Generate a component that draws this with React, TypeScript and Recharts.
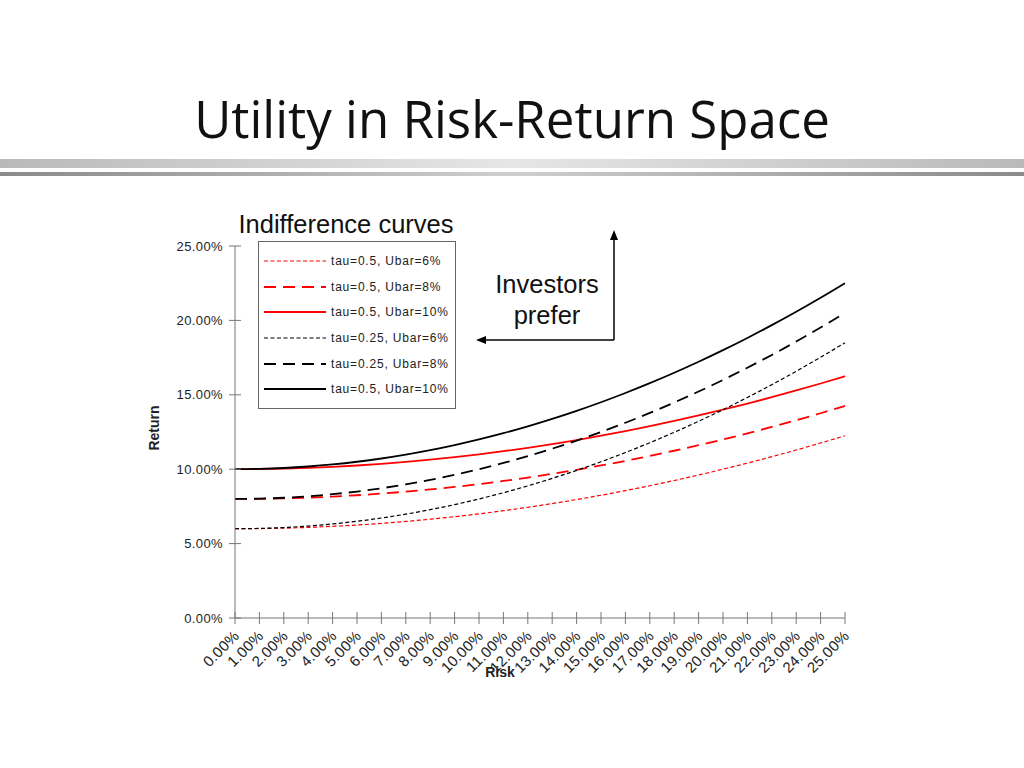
import React from "react";
import { LineChart, Line, XAxis, YAxis, Legend } from "recharts";

// risk in %, returns in %
const risk = [0, 1, 2, 3, 4, 5, 6, 7, 8, 9, 10, 11, 12, 13, 14, 15, 16, 17, 18, 19, 20, 21, 22, 23, 24, 25];
const redU6 = [6.0, 6.01, 6.04, 6.09, 6.16, 6.25, 6.36, 6.49, 6.64, 6.81, 7.0, 7.21, 7.44, 7.69, 7.96, 8.25, 8.56, 8.89, 9.24, 9.61, 10.0, 10.41, 10.84, 11.29, 11.76, 12.25];
const redU8 = [8.0, 8.01, 8.04, 8.09, 8.16, 8.25, 8.36, 8.49, 8.64, 8.81, 9.0, 9.21, 9.44, 9.69, 9.96, 10.25, 10.56, 10.89, 11.24, 11.61, 12.0, 12.41, 12.84, 13.29, 13.76, 14.25];
const redU10 = [10.0, 10.01, 10.04, 10.09, 10.16, 10.25, 10.36, 10.49, 10.64, 10.81, 11.0, 11.21, 11.44, 11.69, 11.96, 12.25, 12.56, 12.89, 13.24, 13.61, 14.0, 14.41, 14.84, 15.29, 15.76, 16.25];
const blackU6 = [6.0, 6.02, 6.08, 6.18, 6.32, 6.5, 6.72, 6.98, 7.28, 7.62, 8.0, 8.42, 8.88, 9.38, 9.92, 10.5, 11.12, 11.78, 12.48, 13.22, 14.0, 14.82, 15.68, 16.58, 17.52, 18.5];
const blackU8 = [8.0, 8.02, 8.08, 8.18, 8.32, 8.5, 8.72, 8.98, 9.28, 9.62, 10.0, 10.42, 10.88, 11.38, 11.92, 12.5, 13.12, 13.78, 14.48, 15.22, 16.0, 16.82, 17.68, 18.58, 19.52, 20.5];
const blackU10 = [10.0, 10.02, 10.08, 10.18, 10.32, 10.5, 10.72, 10.98, 11.28, 11.62, 12.0, 12.42, 12.88, 13.38, 13.92, 14.5, 15.12, 15.78, 16.48, 17.22, 18.0, 18.82, 19.68, 20.58, 21.52, 22.5];
const yTicks = [0, 5, 10, 15, 20, 25];

const data = risk.map((r, i) => ({
  risk: r,
  redU6: redU6[i],
  redU8: redU8[i],
  redU10: redU10[i],
  blackU6: blackU6[i],
  blackU8: blackU8[i],
  blackU10: blackU10[i],
}));

const series = [
  { key: "redU6", name: "tau=0.5, Ubar=6%", color: "#ff0000", dash: "4 2.5", width: 1.2 },
  { key: "redU8", name: "tau=0.5, Ubar=8%", color: "#ff0000", dash: "12 7", width: 1.8 },
  { key: "redU10", name: "tau=0.5, Ubar=10%", color: "#ff0000", dash: undefined, width: 1.8 },
  { key: "blackU6", name: "tau=0.25, Ubar=6%", color: "#000000", dash: "4 2.5", width: 1.2 },
  { key: "blackU8", name: "tau=0.25, Ubar=8%", color: "#000000", dash: "12 7", width: 1.8 },
  { key: "blackU10", name: "tau=0.5, Ubar=10%", color: "#000000", dash: undefined, width: 1.8 },
];

const font = "'Liberation Sans', Arial, sans-serif";
const axisColor = "#777";

const pct = (v: number) => `${v.toFixed(2)}%`;

const YTick = (props: any) => {
  const { x, y, payload } = props;
  const ax = x + 8;
  return (
    <g>
      <line x1={ax - 6} x2={ax + 6} y1={y} y2={y} stroke={axisColor} />
      <text x={ax - 12} y={y} dy={4.5} textAnchor="end" fontSize={13} fill="#222" fontFamily={font} letterSpacing={0.4}>
        {pct(payload.value)}
      </text>
    </g>
  );
};

const XTick = (props: any) => {
  const { x, y, payload } = props;
  const ay = y - 8;
  return (
    <g>
      <line x1={x} x2={x} y1={ay - 6} y2={ay + 6} stroke={axisColor} />
      <text
        transform={`translate(${x + 5},${ay + 19}) rotate(-45)`}
        textAnchor="end"
        fontSize={15}
        fill="#222"
        fontFamily={font}
        letterSpacing={0.2}
      >
        {pct(payload.value)}
      </text>
    </g>
  );
};

const LegendBox = () => (
  <div
    style={{
      border: "1px solid #666",
      background: "#fff",
      padding: "6px 0 6px 4px",
      fontFamily: font,
      fontSize: 12,
      letterSpacing: 0.8,
      color: "#222",
      boxSizing: "border-box",
      width: 198,
      height: 168,
    }}
  >
    {series.map((s) => (
      <div key={s.key} style={{ height: 25.7, display: "flex", alignItems: "center" }}>
        <svg width={64} height={10} style={{ marginRight: 4 }}>
          <line x1={1} x2={63} y1={5} y2={5} stroke={s.color} strokeWidth={s.width} strokeDasharray={s.dash} />
        </svg>
        <span>{s.name}</span>
      </div>
    ))}
  </div>
);

export default function App() {
  return (
    <div style={{ position: "absolute", left: 0, top: 0, width: 1024, height: 768, background: "#fff", overflow: "hidden" }}>
      <div
        style={{
          position: "absolute",
          top: 86,
          left: 0,
          width: 1024,
          textAlign: "center",
          fontFamily: "'Open Sans', 'Noto Sans', sans-serif",
          fontSize: 51,
          color: "#111",
          lineHeight: "64px",
        }}
      >
        Utility in Risk-Return Space
      </div>
      <div
        style={{
          position: "absolute",
          top: 159,
          left: 0,
          width: 1024,
          height: 9,
          background: "linear-gradient(to right, #b9b9b9, #e6e6e6 50%, #b9b9b9)",
        }}
      />
      <div
        style={{
          position: "absolute",
          top: 172,
          left: 0,
          width: 1024,
          height: 4,
          background: "linear-gradient(to right, #8a8a8a, #cfcfcf 50%, #8a8a8a)",
        }}
      />
      <div style={{ position: "absolute", left: 0, top: 0 }}>
        <LineChart width={1024} height={768} data={data} margin={{ top: 246, right: 179, bottom: 90, left: 175 }}>
          <XAxis
            dataKey="risk"
            type="number"
            domain={[0, 25]}
            ticks={risk}
            interval={0}
            height={60}
            stroke={axisColor}
            tickLine={false}
            tick={<XTick />}
          />
          <YAxis
            type="number"
            domain={[0, 25]}
            ticks={yTicks}
            width={60}
            stroke={axisColor}
            tickLine={false}
            tick={<YTick />}
          />
          <Legend
            layout="vertical"
            align="center"
            verticalAlign="middle"
            wrapperStyle={{ left: 258, top: 241, width: 198, height: 168 }}
            content={() => <LegendBox />}
          />
          {series.map((s) => (
            <Line
              key={s.key}
              type="monotone"
              dataKey={s.key}
              name={s.name}
              stroke={s.color}
              strokeWidth={s.width}
              strokeDasharray={s.dash}
              dot={false}
              activeDot={false}
              isAnimationActive={false}
            />
          ))}
        </LineChart>
      </div>
      <svg width={1024} height={768} style={{ position: "absolute", left: 0, top: 0, pointerEvents: "none" }}>
        <text x={346} y={233} textAnchor="middle" fontSize={25.5} fontFamily={font} fill="#111">
          Indifference curves
        </text>
        <text x={547} y={293} textAnchor="middle" fontSize={25.5} fontFamily={font} fill="#111">
          Investors
        </text>
        <text x={547} y={324} textAnchor="middle" fontSize={25.5} fontFamily={font} fill="#111">
          prefer
        </text>
        <line x1={614} y1={340} x2={614} y2={238} stroke="#000" strokeWidth={1.5} />
        <polygon points="614,230 610,240 618,240" fill="#000" />
        <line x1={614} y1={340} x2={484} y2={340} stroke="#000" strokeWidth={1.5} />
        <polygon points="476,340 486,336 486,344" fill="#000" />
        <text x={500} y={677} textAnchor="middle" fontSize={14} fontWeight="bold" fontFamily={font} fill="#222">
          Risk
        </text>
        <text
          transform="translate(159,428) rotate(-90)"
          textAnchor="middle"
          fontSize={14}
          fontWeight="bold"
          fontFamily={font}
          fill="#222"
        >
          Return
        </text>
      </svg>
    </div>
  );
}
